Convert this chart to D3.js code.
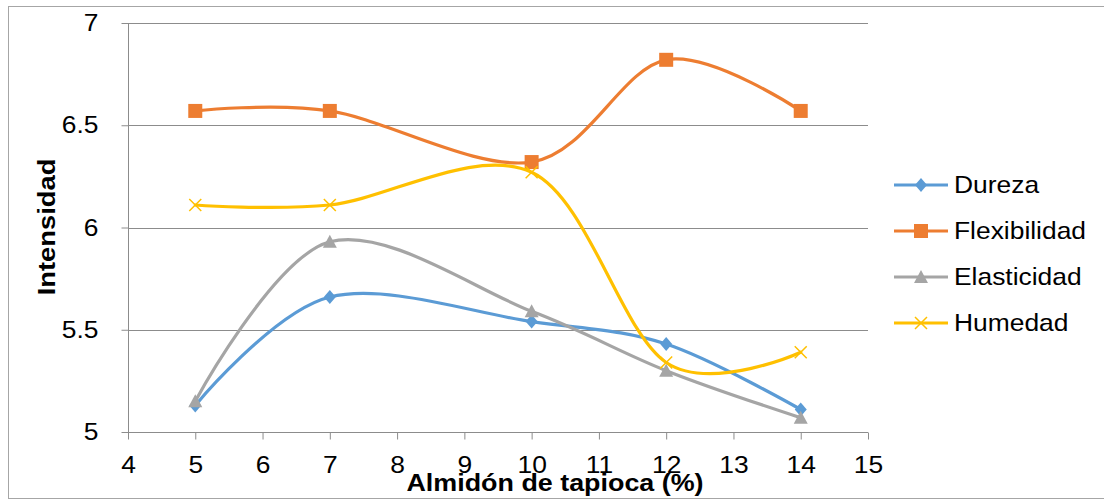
<!DOCTYPE html>
<html>
<head>
<meta charset="utf-8">
<script src="https://cdn.jsdelivr.net/npm/d3@7"></script>
<style>
  html, body { margin: 0; padding: 0; background: #fff; }
  svg { display: block; }
  text { font-family: "Liberation Sans", Arial, sans-serif; fill: #000; }
</style>
</head>
<body>
<svg id="chart" width="1104" height="500"></svg>
<script>
// Almidón de tapioca (%) levels
const almidon = [5, 7, 10, 12, 14];

// Sensory intensity per attribute
const dureza       = [5.13, 5.66, 5.54, 5.43, 5.11];
const flexibilidad = [6.57, 6.57, 6.32, 6.82, 6.57];
const elasticidad  = [5.15, 5.93, 5.59, 5.30, 5.07];
const humedad      = [6.11, 6.11, 6.27, 5.34, 5.39];

const seriesNames = ["Dureza", "Flexibilidad", "Elasticidad", "Humedad"];
const xTicks = [4, 5, 6, 7, 8, 9, 10, 11, 12, 13, 14, 15];
const yTicks = [5, 5.5, 6, 6.5, 7];

const series = [
  { name: seriesNames[0], values: dureza,       color: "#5B9BD5", marker: "diamond" },
  { name: seriesNames[1], values: flexibilidad, color: "#ED7D31", marker: "square" },
  { name: seriesNames[2], values: elasticidad,  color: "#A5A5A5", marker: "triangle" },
  { name: seriesNames[3], values: humedad,      color: "#FFC000", marker: "cross" }
];

// widen glyphs horizontally around each text's anchor point
const SX = 1.1;
function stretch(sel, sx) {
  sel.each(function () {
    const t = d3.select(this);
    const x0 = +(t.attr("x") || 0);
    t.attr("x", x0 / sx).attr("transform", `scale(${sx},1)`);
  });
}

const svg = d3.select("#chart");

// outer chart frame
svg.append("rect")
  .attr("x", 8.5).attr("y", 6.5)
  .attr("width", 1110).attr("height", 492)
  .attr("fill", "none").attr("stroke", "#a6a6a6").attr("stroke-width", 1);

const plot = { left: 128, right: 868, top: 23, bottom: 432 };

const x = d3.scaleLinear().domain([4, 15]).range([plot.left, plot.right]);
const y = d3.scaleLinear().domain([5, 7]).range([plot.bottom, plot.top]);

const gridColor = "#8c8c8c";

// horizontal gridlines
svg.append("g")
  .selectAll("line")
  .data(yTicks)
  .join("line")
  .attr("x1", plot.left).attr("x2", plot.right)
  .attr("y1", d => Math.round(y(d)) + 0.5).attr("y2", d => Math.round(y(d)) + 0.5)
  .attr("stroke", gridColor).attr("stroke-width", 1);

// y axis
const yAxis = svg.append("g")
  .attr("transform", `translate(${plot.left + 0.5},0)`)
  .call(d3.axisLeft(y).tickValues(yTicks).tickFormat(d3.format("")).tickSize(7).tickPadding(23));
yAxis.select(".domain").attr("stroke", gridColor).attr("d", `M0,${plot.top}V${plot.bottom + 7}`);
yAxis.selectAll(".tick line").attr("stroke", gridColor);
yAxis.selectAll(".tick text")
  .attr("font-size", 24).attr("font-family", "Liberation Sans, Arial, sans-serif").attr("fill", "#000")
  .call(stretch, SX);

// x axis
const xAxis = svg.append("g")
  .attr("transform", `translate(0,${Math.round(y(5)) + 0.5})`)
  .call(d3.axisBottom(x).tickValues(xTicks).tickFormat(d3.format("d")).tickSize(7).tickPadding(16));
xAxis.select(".domain").attr("stroke", gridColor).attr("d", `M${plot.left},0H${plot.right}`);
xAxis.selectAll(".tick line").attr("stroke", gridColor);
xAxis.selectAll(".tick text")
  .attr("font-size", 24).attr("font-family", "Liberation Sans, Arial, sans-serif").attr("fill", "#000")
  .call(stretch, SX);

// axis titles
svg.append("text")
  .attr("transform", `translate(555,491) scale(1.12,1)`)
  .attr("text-anchor", "middle")
  .attr("font-size", 24).attr("font-weight", "bold")
  .text("Almidón de tapioca (%)");

svg.append("text")
  .attr("transform", `translate(55,227) rotate(-90) scale(1.14,1)`)
  .attr("text-anchor", "middle")
  .attr("font-size", 24).attr("font-weight", "bold")
  .text("Intensidad");

// smoothed lines
const line = d3.line()
  .x(d => x(d[0]))
  .y(d => y(d[1]))
  .curve(d3.curveCardinal.tension(0));

function drawMarker(g, type, color, cx, cy) {
  if (type === "diamond") {
    g.append("path")
      .attr("d", `M${cx},${cy - 7}L${cx + 6},${cy}L${cx},${cy + 7}L${cx - 6},${cy}Z`)
      .attr("fill", color);
  } else if (type === "square") {
    g.append("rect")
      .attr("x", cx - 7).attr("y", cy - 7).attr("width", 14).attr("height", 14)
      .attr("fill", color);
  } else if (type === "triangle") {
    g.append("path")
      .attr("d", `M${cx},${cy - 7}L${cx + 7},${cy + 6}L${cx - 7},${cy + 6}Z`)
      .attr("fill", color);
  } else if (type === "cross") {
    g.append("path")
      .attr("d", `M${cx - 6},${cy - 6}L${cx + 6},${cy + 6}M${cx - 6},${cy + 6}L${cx + 6},${cy - 6}`)
      .attr("stroke", color).attr("stroke-width", 1.5).attr("fill", "none");
  }
}

series.forEach(s => {
  const pts = almidon.map((a, i) => [a, s.values[i]]);
  const g = svg.append("g");
  g.append("path")
    .attr("d", line(pts))
    .attr("fill", "none")
    .attr("stroke", s.color)
    .attr("stroke-width", 3.2)
    .attr("stroke-linejoin", "round")
    .attr("stroke-linecap", "round");
  pts.forEach(p => drawMarker(g, s.marker, s.color, x(p[0]), y(p[1])));
});

// legend
const legend = svg.append("g");
series.forEach((s, i) => {
  const cy = 185 + i * 46;
  const g = legend.append("g");
  g.append("line")
    .attr("x1", 894).attr("x2", 948)
    .attr("y1", cy).attr("y2", cy)
    .attr("stroke", s.color).attr("stroke-width", 3.2);
  drawMarker(g, s.marker, s.color, 921, cy);
  g.append("text")
    .attr("transform", `translate(954,${cy}) scale(${SX},1)`)
    .attr("dy", "0.35em")
    .attr("font-size", 24)
    .text(s.name);
});
</script>
</body>
</html>
